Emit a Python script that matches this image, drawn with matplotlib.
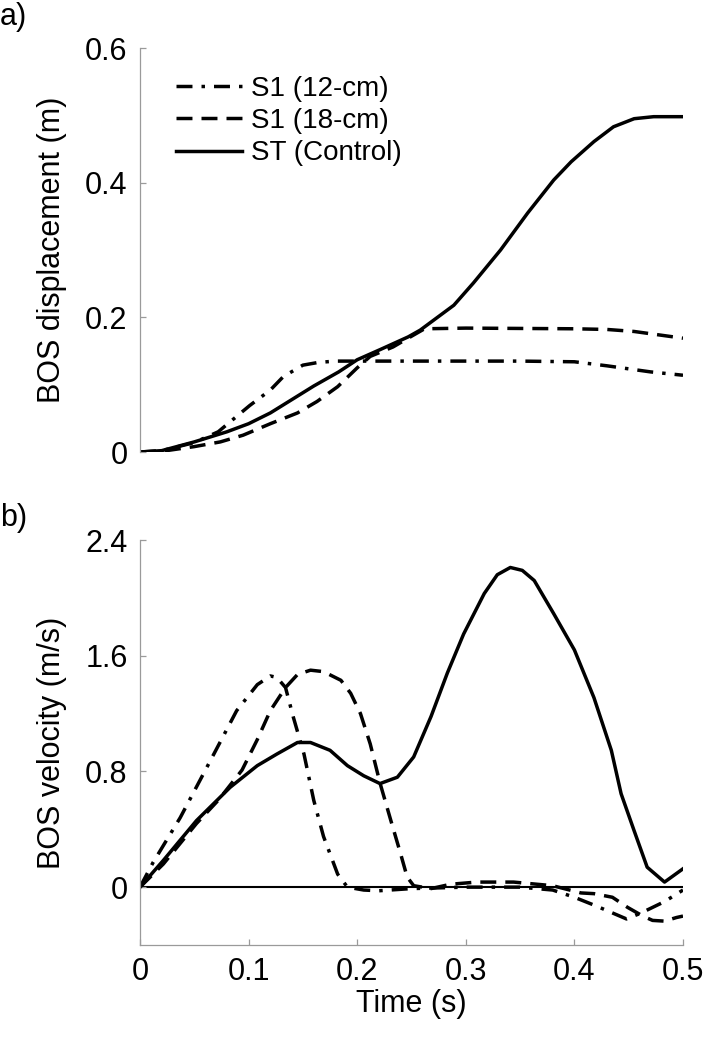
import numpy as np
import matplotlib
matplotlib.use("Agg")
import matplotlib.pyplot as plt

plt.rcParams['font.family'] = ['Liberation Sans', 'DejaVu Sans']

# ---- panel a) BOS displacement (m) ----
t_st_d = [0, 0.02, 0.05, 0.08, 0.10, 0.12, 0.14, 0.16, 0.183, 0.20, 0.221, 0.247,
          0.258, 0.289, 0.307, 0.332, 0.357, 0.381, 0.397, 0.418, 0.436, 0.455, 0.473, 0.5]
d_st = [0, 0.002, 0.015, 0.03, 0.042, 0.058, 0.078, 0.098, 0.119, 0.137, 0.152, 0.171,
        0.181, 0.218, 0.251, 0.300, 0.355, 0.404, 0.431, 0.461, 0.483, 0.495, 0.498, 0.498]

t_12_d = [0, 0.02, 0.05, 0.072, 0.101, 0.12, 0.132, 0.15, 0.164, 0.18, 0.25, 0.35,
          0.40, 0.43, 0.47, 0.5]
d_12 = [0, 0.002, 0.014, 0.030, 0.069, 0.092, 0.112, 0.129, 0.133, 0.135, 0.135, 0.135,
        0.134, 0.128, 0.119, 0.114]

t_18_d = [0, 0.02, 0.05, 0.074, 0.095, 0.12, 0.145, 0.163, 0.182, 0.20, 0.212, 0.233,
          0.249, 0.262, 0.30, 0.40, 0.43, 0.455, 0.5]
d_18 = [0, 0.001, 0.008, 0.015, 0.025, 0.042, 0.058, 0.075, 0.097, 0.125, 0.142, 0.156,
        0.171, 0.183, 0.184, 0.183, 0.182, 0.179, 0.169]

# ---- panel b) BOS velocity (m/s) ----
t_st_v = [0, 0.0215, 0.052, 0.083, 0.108, 0.126, 0.145, 0.157, 0.175, 0.191, 0.206, 0.221,
          0.237, 0.252, 0.268, 0.283, 0.298, 0.317, 0.329, 0.341, 0.352, 0.363, 0.381, 0.40,
          0.418, 0.434, 0.443, 0.455, 0.467, 0.483, 0.5]
v_st = [0, 0.185, 0.46, 0.69, 0.84, 0.92, 1.0, 1.0, 0.946, 0.84, 0.77, 0.716,
        0.76, 0.90, 1.18, 1.48, 1.75, 2.03, 2.16, 2.21, 2.19, 2.12, 1.89, 1.64,
        1.31, 0.946, 0.646, 0.39, 0.138, 0.035, 0.127]

t_12_v = [0, 0.012, 0.037, 0.068, 0.089, 0.108, 0.12, 0.126, 0.134, 0.141, 0.151, 0.16,
          0.169, 0.182, 0.191, 0.206, 0.22, 0.25, 0.30, 0.35, 0.38, 0.40, 0.42, 0.448,
          0.461, 0.483, 0.5]
v_12 = [0, 0.17, 0.48, 0.92, 1.22, 1.40, 1.46, 1.45, 1.38, 1.18, 0.92, 0.60,
        0.35, 0.09, 0.0, -0.02, -0.025, -0.01, 0.0, 0.0, -0.02, -0.07, -0.13, -0.22,
        -0.18, -0.10, -0.02]

t_18_v = [0, 0.0215, 0.052, 0.072, 0.094, 0.108, 0.12, 0.134, 0.145, 0.157, 0.169, 0.185,
          0.194, 0.203, 0.212, 0.221, 0.231, 0.24, 0.246, 0.252, 0.268, 0.286, 0.31, 0.344,
          0.38, 0.406, 0.418, 0.435, 0.449, 0.463, 0.472, 0.483, 0.494, 0.5]
v_18 = [0, 0.16, 0.44, 0.60, 0.81, 1.02, 1.22, 1.38, 1.47, 1.50, 1.49, 1.43,
        1.34, 1.20, 0.99, 0.72, 0.46, 0.23, 0.07, 0.01, -0.01, 0.02, 0.035, 0.035,
        0.01, -0.04, -0.045, -0.07, -0.14, -0.2, -0.23, -0.235, -0.21, -0.2]

labels = ['S1 (12-cm)', 'S1 (18-cm)', 'ST (Control)']

fig = plt.figure(figsize=(7.06, 10.5), dpi=100)
ax1 = fig.add_axes([140/706, 1-452/1050, 543/706, 404/1050])
ax2 = fig.add_axes([140/706, 1-945/1050, 543/706, 405/1050])

lw = 2.5
dashdot = (0, (4.6, 2.6, 1, 2.6))
dashed = (0, (4.6, 2.6))
spine_c = '#9a9a9a'
fs = 22

l1, = ax1.plot(t_12_d, d_12, color='black', lw=lw, linestyle=dashdot)
l2, = ax1.plot(t_18_d, d_18, color='black', lw=lw, linestyle=dashed)
l3, = ax1.plot(t_st_d, d_st, color='black', lw=lw, linestyle='-')

ax2.axhline(0, color='black', lw=1.5, zorder=1)
ax2.plot(t_12_v, v_12, color='black', lw=lw, linestyle=dashdot)
ax2.plot(t_18_v, v_18, color='black', lw=lw, linestyle=dashed)
ax2.plot(t_st_v, v_st, color='black', lw=lw, linestyle='-')

ax1.set_xlim(0, 0.5)
ax1.set_ylim(0, 0.6)
ax1.set_yticks([0, 0.2, 0.4, 0.6])
ax1.set_yticklabels(['0', '0.2', '0.4', '0.6'])
ax1.set_xticks([])
for s in ['top', 'right', 'bottom']:
    ax1.spines[s].set_visible(False)

ax2.set_xlim(0, 0.5)
ax2.set_ylim(-0.4, 2.4)
ax2.set_yticks([0, 0.8, 1.6, 2.4])
ax2.set_yticklabels(['0', '0.8', '1.6', '2.4'])
ax2.set_xticks([0, 0.1, 0.2, 0.3, 0.4, 0.5])
ax2.set_xticklabels(['0', '0.1', '0.2', '0.3', '0.4', '0.5'])
for s in ['top', 'right']:
    ax2.spines[s].set_visible(False)

for ax in (ax1, ax2):
    for s in ['left', 'bottom']:
        ax.spines[s].set_color(spine_c)
        ax.spines[s].set_linewidth(0.9)
    ax.tick_params(direction='in', length=4, width=0.9, color=spine_c,
                   labelsize=fs, pad=9)

ax1.set_ylabel('BOS displacement (m)', fontsize=fs)
ax2.set_ylabel('BOS velocity (m/s)', fontsize=fs)
ax2.set_xlabel('Time (s)', fontsize=fs, labelpad=1)
ax1.yaxis.set_label_coords(-0.135, 0.5)
ax2.yaxis.set_label_coords(-0.135, 0.5)

fig.text(0.0, 1-17/1050, 'a)', fontsize=fs, va='center', ha='left')
fig.text(0.0, 1-518/1050, 'b)', fontsize=fs, va='center', ha='left')

ax1.legend([l1, l2, l3], labels, loc='upper left', bbox_to_anchor=(0.045, 0.958),
           frameon=False, fontsize=20, handlelength=2.4, handletextpad=0.3,
           labelspacing=0.22, borderaxespad=0)

fig.savefig('out.png', dpi=100)
